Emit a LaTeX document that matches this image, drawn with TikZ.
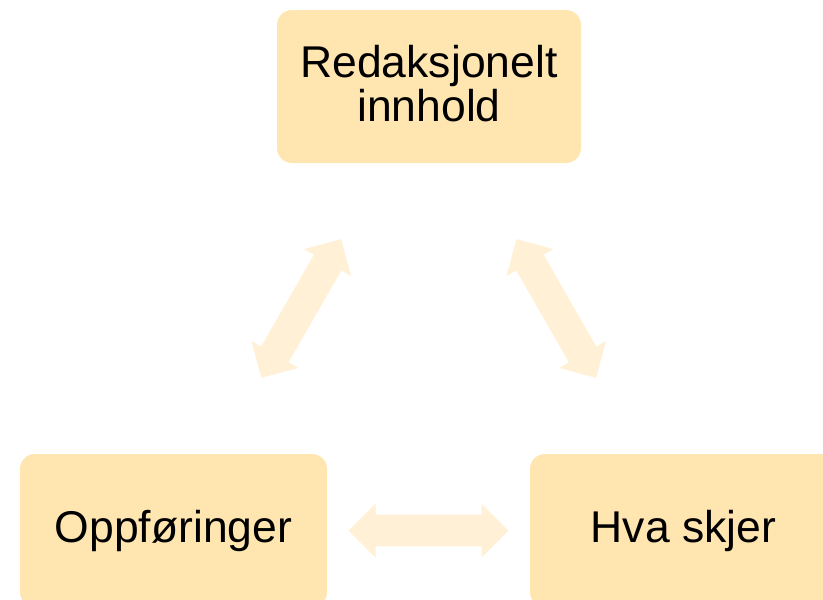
\documentclass[tikz,border=0pt]{standalone}
\usepackage{fontspec}
\setmainfont{Liberation Sans}
\usetikzlibrary{calc}
\definecolor{boxfill}{HTML}{FFE5B0}
\definecolor{arrowfill}{HTML}{FFF0D6}
\tikzset{
  itembox/.style={fill=boxfill, draw=none, rounded corners=15pt,
    minimum width=304pt, minimum height=153pt, inner sep=0pt,
    align=center, font=\fontsize{44.5}{44.5}\selectfont},
  linkarrow/.style={fill=arrowfill, draw=none}
}
\newcommand\blockarrow[2]{%
  \path ($(#1)!0.5!(#2)$) coordinate (mid-#1-#2);
  \pgfmathanglebetweenpoints{\pgfpointanchor{#1}{center}}{\pgfpointanchor{#2}{center}}%
  \edef\arrang{\pgfmathresult}%
  \fill[linkarrow, shift={(mid-#1-#2)}, rotate=\arrang]
    (-80,0) -- (-53,27) -- (-53,15.8) -- (53,15.8) -- (53,27) -- (80,0)
    -- (53,-27) -- (53,-15.8) -- (-53,-15.8) -- (-53,-27) -- cycle;
}
\begin{document}
\begin{tikzpicture}[x=1pt, y=-1pt]
  \useasboundingbox (0,0) rectangle (823,600);
  \clip (0,0) rectangle (823,600);
  \node[itembox, text height=77pt, text depth=6.6pt] (top) at (429,86.5) {Redaksjonelt\\innhold};
  \node[itembox, minimum width=307pt, text height=32.5pt, text depth=9.5pt] (left) at (173.5,530.5) {Oppføringer};
  \node[itembox, minimum width=307pt, text height=32.5pt, text depth=9.5pt] (right) at (683.5,530.5) {Hva skjer};
  \blockarrow{left}{top}
  \blockarrow{top}{right}
  \blockarrow{left}{right}
\end{tikzpicture}
\end{document}
